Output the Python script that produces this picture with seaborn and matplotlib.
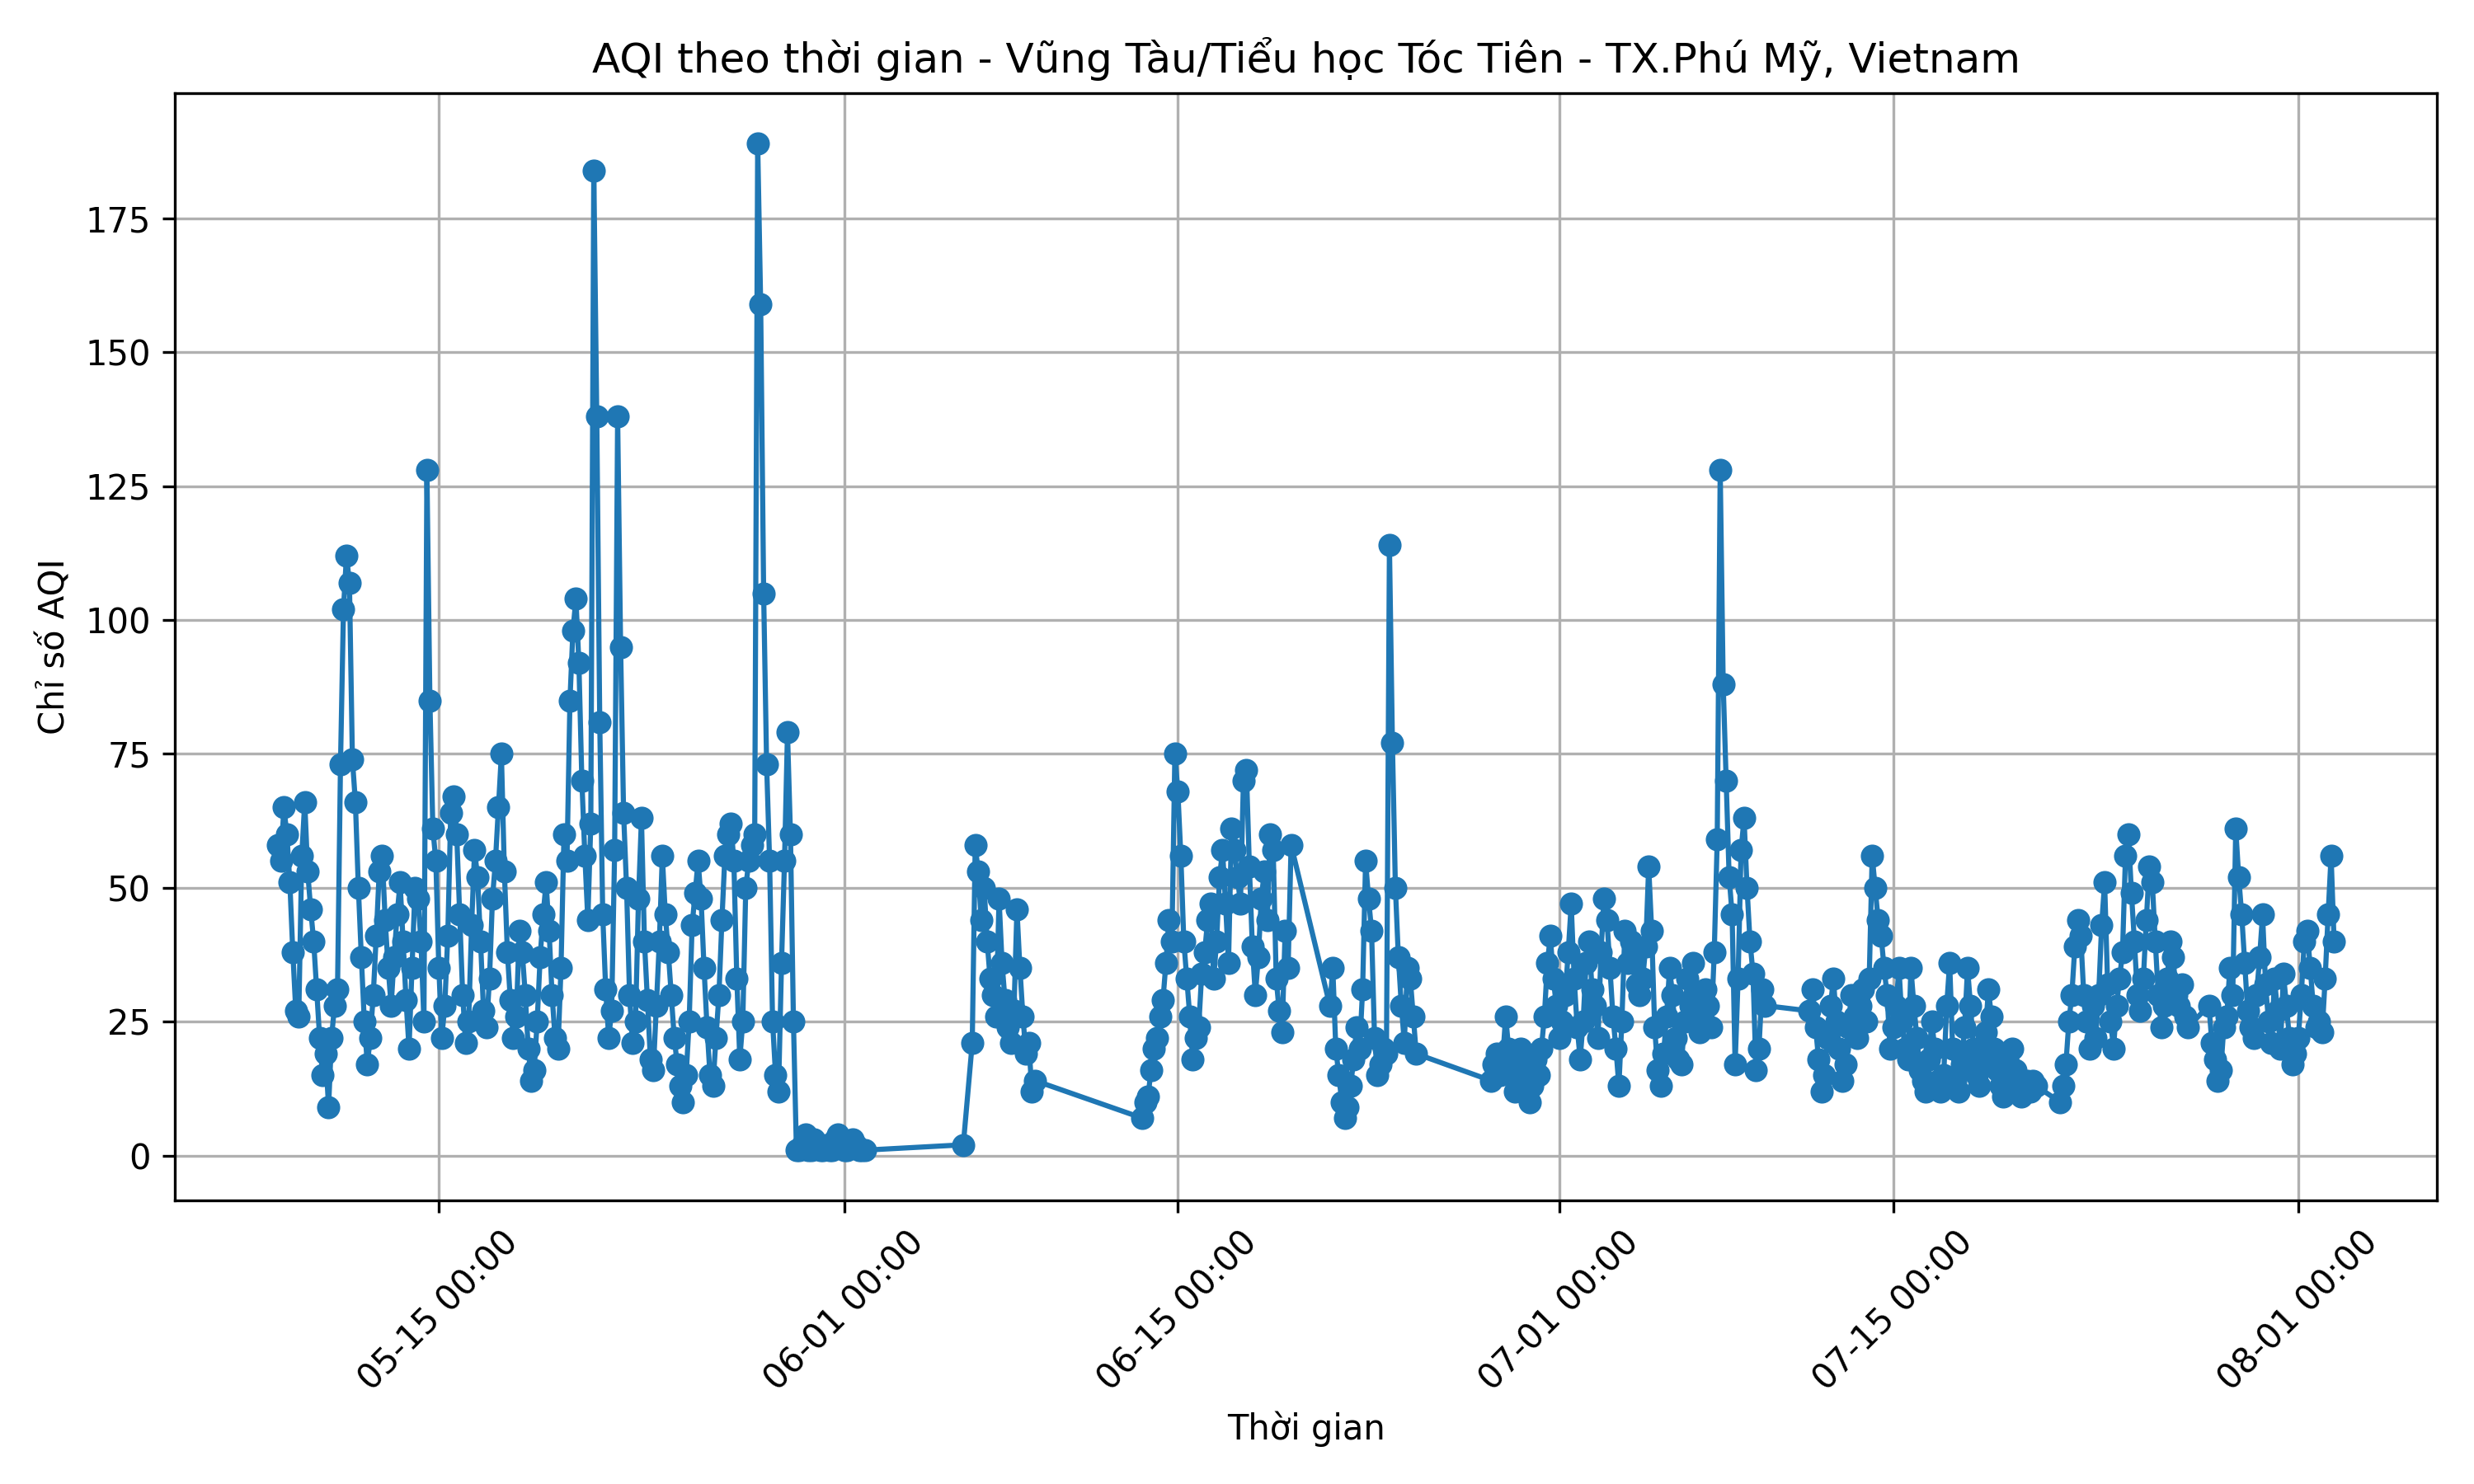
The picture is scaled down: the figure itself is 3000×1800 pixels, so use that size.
import pandas as pd
import matplotlib
matplotlib.use("Agg")
import matplotlib.pyplot as plt
import matplotlib.dates as mdates
import seaborn as sns

# AQI, mỗi 3 giờ một điểm (các đoạn có khoảng trống dữ liệu)
may_start = "2025-05-08 06:00"
aqi_may = [
    58, 55, 65, 60, 51, 38, 27,
    26, 56, 66, 53, 46, 40, 31, 22,
    15, 19, 9, 22, 28, 31, 73, 102,
    112, 107, 74, 66, 50, 37, 25, 17,
    22, 30, 41, 53, 56, 44, 35, 28,
    37, 45, 51, 40, 29, 20, 35, 50,
    48, 40, 25, 128, 85, 61, 55, 35,
    22, 28, 41, 64, 67, 60, 45, 30,
    21, 25, 43, 57, 52, 40, 27, 24,
    33, 48, 55, 65, 75, 53, 38, 29,
    22, 26, 42, 38, 30, 20, 14, 16,
    25, 37, 45, 51, 42, 30, 22, 20,
    35, 60, 55, 85, 98, 104, 92, 70,
    56, 44, 62, 184, 138, 81, 45, 31,
    22, 27, 57, 138, 95, 64, 50, 30,
    21, 25, 48, 63, 40, 29, 18, 16,
    28, 40, 56, 45, 38, 30, 22, 17,
    13, 10, 15, 25, 43, 49, 55, 48,
    35, 24, 15, 13, 22, 30, 44, 56,
    60, 62, 55, 33, 18, 25, 50, 55,
    58, 60, 189, 159, 105, 73, 55, 25,
    15, 12, 36, 55, 79, 60, 25, 1,
    1, 2, 4, 1, 1, 3, 2, 1,
    1, 2, 1, 1, 3, 4, 2, 1,
    1, 2, 3, 2, 1, 1, 1,
]

jun_a_start = "2025-06-06 00:00"
aqi_jun_a = [2]

jun_b_start = "2025-06-06 09:00"
aqi_jun_b = [
    21, 58, 53, 44, 50,
    40, 33, 30, 26, 48, 36, 29, 24,
    21, 27, 46, 35, 26, 19, 21, 12,
    14,
]

jun_c_start = "2025-06-13 12:00"
aqi_jun_c = [
    7, 10, 11, 16,
    20, 22, 26, 29, 36, 44, 40, 75,
    68, 56, 40, 33, 26, 18, 22, 24,
    34, 38, 44, 47, 33, 40, 52, 57,
    47, 36, 61, 57, 52, 47, 70, 72,
    54, 39, 30, 37, 48, 53, 44, 60,
    57, 33, 27, 23, 42, 35, 58,
]

jun_d_start = "2025-06-21 09:00"
aqi_jun_d = [
    28, 35, 20, 15, 10,
    7, 9, 13, 18, 24, 20, 31, 55,
    48, 42, 22, 15, 17, 20, 19, 114,
    77, 50, 37, 28, 21, 35, 33, 26,
    19,
]

jul_a_start = "2025-06-28 03:00"
aqi_jul_a = [
    14, 17, 19, 15, 18, 26, 20,
    16, 12, 18, 20, 14, 17, 10, 13,
    18, 15, 20, 26, 36, 41, 33, 28,
    22, 25, 30, 38, 47, 33, 24, 18,
    25, 36, 40, 31, 28, 22, 38, 48,
    44, 35, 26, 20, 13, 25, 42, 36,
    40, 36, 32, 30, 33, 39, 54, 42,
    24, 16, 13, 19, 26, 35, 30, 22,
    18, 17, 25, 33, 28, 36, 30, 23,
    26, 31, 28, 24, 38, 59, 128, 88,
    70, 52, 45, 17, 33, 57, 63, 50,
    40, 34, 16, 20, 31, 28,
]

jul_b_start = "2025-07-11 12:00"
aqi_jul_b = [
    27, 31, 24, 18,
    12, 15, 22, 28, 33, 25, 20, 14,
    17, 24, 30, 26, 22, 28, 31, 25,
    33, 56, 50, 44, 41, 35, 30, 20,
    24, 28, 35, 25, 20, 18, 35, 28,
    22, 16, 14, 12, 18, 25, 20, 14,
    12, 15, 28, 36, 20, 14, 12, 17,
    24, 35, 28, 20, 15, 13, 18, 23,
    31, 26, 20, 16, 13, 11, 14, 17,
    20, 16, 14, 11, 13, 14, 12, 14,
    13,
]

jul_c_start = "2025-07-22 00:00"
aqi_jul_c = [
    10, 13, 17, 25, 30, 39, 44, 41,
    30, 25, 20, 28, 22, 30, 43, 51,
    32, 25, 20, 28, 33, 38, 56, 60,
    49, 40, 30, 27, 33, 44, 54, 51,
    40, 30, 24, 28, 33, 40, 37, 30,
    28, 32, 26, 24,
]

aug_start = "2025-07-28 06:00"
aqi_aug = [
    28, 21, 18, 14, 16, 24,
    26, 35, 30, 61, 52, 45, 36, 27,
    24, 22, 30, 37, 45, 32, 25, 21,
    33, 27, 20, 34, 28, 22, 17, 19,
    22, 30, 40, 42, 35, 28, 24, 25,
    23, 33, 45, 56, 40,
]

segments = [
    (may_start, aqi_may), (jun_a_start, aqi_jun_a), (jun_b_start, aqi_jun_b),
    (jun_c_start, aqi_jun_c), (jun_d_start, aqi_jun_d), (jul_a_start, aqi_jul_a),
    (jul_b_start, aqi_jul_b), (jul_c_start, aqi_jul_c), (aug_start, aqi_aug),
]

frames = []
for start, vals in segments:
    t = pd.date_range(start=start, periods=len(vals), freq="3h")
    frames.append(pd.DataFrame({"time": t, "aqi": vals}))
df = pd.concat(frames, ignore_index=True)

fig, ax = plt.subplots(figsize=(10, 6), dpi=300)
sns.lineplot(data=df, x="time", y="aqi", marker="o", color="#1f77b4",
             markeredgecolor="#1f77b4", markersize=6, linewidth=1.5,
             estimator=None, ax=ax)

ax.set_title("AQI theo thời gian - Vũng Tàu/Tiểu học Tóc Tiên - TX.Phú Mỹ, Vietnam")
ax.set_xlabel("Thời gian")
ax.set_ylabel("Chỉ số AQI")
ax.xaxis.set_major_locator(mdates.DayLocator(bymonthday=[1, 15]))
ax.xaxis.set_major_formatter(mdates.DateFormatter("%m-%d %H:%M"))
plt.xticks(rotation=45)
ax.grid(True)
plt.tight_layout()
plt.savefig("out.png", dpi=300)
